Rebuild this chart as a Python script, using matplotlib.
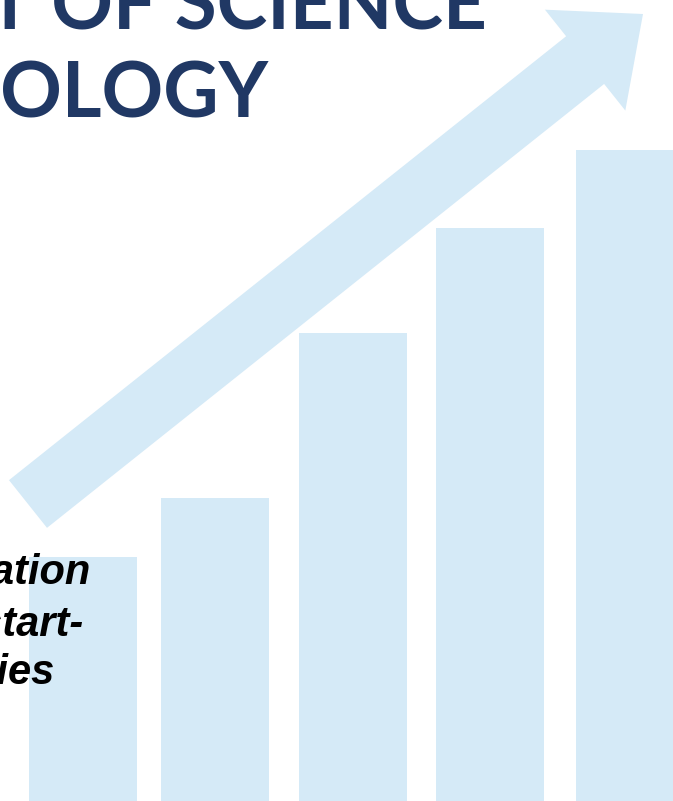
import matplotlib
matplotlib.use('Agg')
import matplotlib.pyplot as plt
from matplotlib.patches import FancyArrow

# bar data (pixel units, figure is 673x801)
bar_labels = ['1', '2', '3', '4', '5']
bar_x = [83, 215, 353, 490, 630]
bar_heights = [244, 303, 468, 573, 651]

title_lines = ['DEPARTMENT OF SCIENCE', 'AND TECHNOLOGY']
note_lines = ['Innovation', 'for start-', 'companies']

light_blue = '#D5EAF7'
navy = '#203864'

fig = plt.figure(figsize=(6.73, 8.01), dpi=100)
ax = fig.add_axes([0, 0, 1, 1])
ax.set_xlim(0, 673)
ax.set_ylim(0, 801)
ax.axis('off')

ax.bar(bar_x, bar_heights, width=108, color=light_blue, zorder=1)

# rising arrow
arr = FancyArrow(28, 297, 615, 490, width=61, head_width=129, head_length=74,
                 length_includes_head=True, color=light_blue, lw=0, zorder=1)
ax.add_patch(arr)

# title (cut off at top-left)
ax.text(487, 771, title_lines[0], ha='right', va='baseline', fontsize=55,
        fontweight='bold', family='Lato', color=navy, zorder=3)
ax.text(269, 683, title_lines[1], ha='right', va='baseline', fontsize=55,
        fontweight='bold', family='Lato', color=navy, zorder=3)

# italic note
note_right = [91, 83, 55]
note_base = [217, 165, 117]
for t, xr, yb in zip(note_lines, note_right, note_base):
    ax.text(xr, yb, t, ha='right', va='baseline', fontsize=30, fontweight='bold',
            style='italic', family='Liberation Sans', color='black', zorder=3)

fig.savefig('out.png', dpi=100)
